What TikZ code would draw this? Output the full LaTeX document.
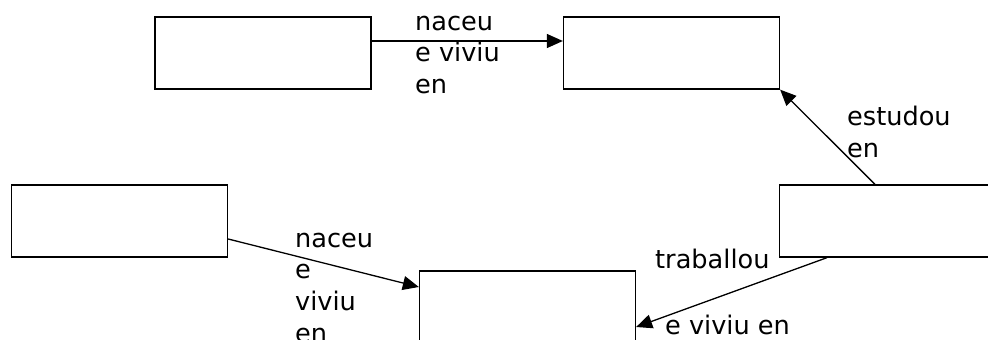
\documentclass[tikz,border=0pt]{standalone}
\usepackage{fontspec}
\setmainfont{DejaVu Sans}
\usetikzlibrary{arrows.meta}
\begin{document}
\begin{tikzpicture}[x=1pt,y=-1pt,
  box/.style={draw=black,line width=1.3pt,rectangle,inner sep=0pt,minimum width=216pt,minimum height=72pt,fill=white},
  conn/.style={draw=black,line width=1.3pt,-{Triangle[length=16pt,width=14pt]}},
  lbl/.style={anchor=base west,inner sep=0pt,align=left,font=\fontsize{25.6}{31.6}\selectfont}]
\clip (0,0) rectangle (988,340);
\useasboundingbox (0,0) rectangle (988,340);
\node[box] (A) at (263,53) {};
\node[box] (B) at (671.5,53) {};
\node[box] (C) at (119.5,221) {};
\node[box] (D) at (527.5,307) {};
\node[box] (E) at (887.5,221) {};
\draw[conn] ([yshift=12pt]A.east) -- ([yshift=12pt]B.west);
\draw[conn] ([yshift=-18pt]C.east) -- ([yshift=20pt]D.west);
\draw[conn] ([xshift=-12.5pt]E.north) -- (B.south east);
\draw[conn] ([xshift=-60.5pt]E.south) -- ([yshift=-20pt]D.east);
\node[lbl] (l1) at (415,93.3) {naceu\\e viviu\\en};
\node[lbl] (l2) at (295,342) {naceu\\e\\viviu\\en};
\node[lbl] (l3) at (847,157.3) {estudou\\en};
\node[lbl] (l4) at (655,268) {traballou};
\node[lbl] (l5) at (665,334) {e viviu en};
\end{tikzpicture}
\end{document}
